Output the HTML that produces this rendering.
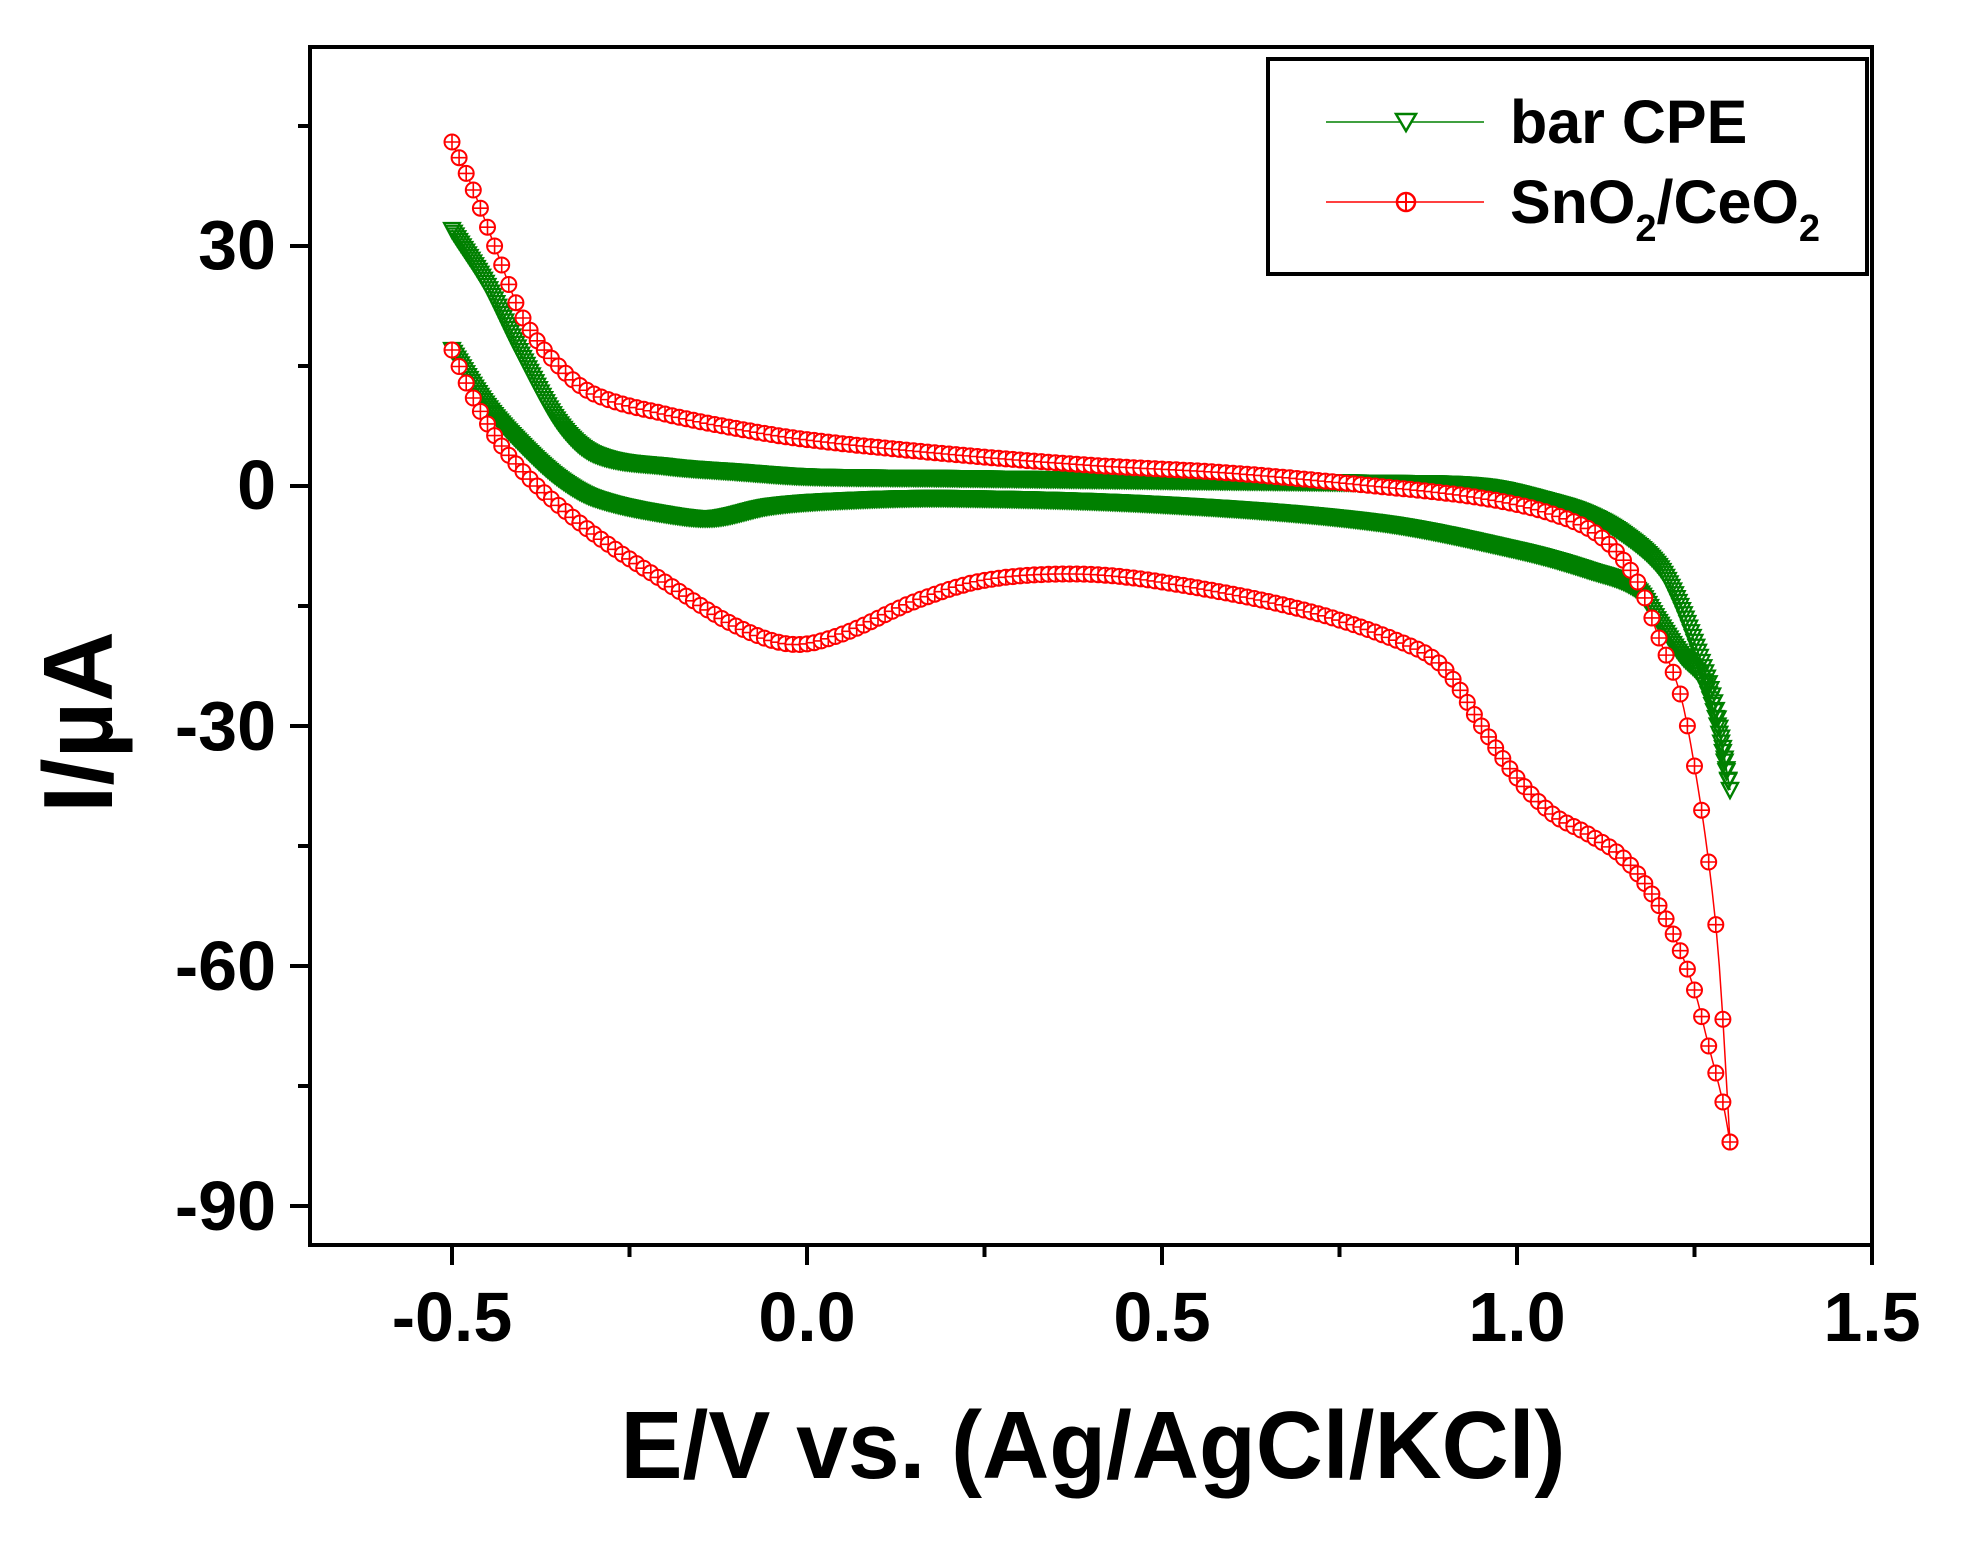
<!DOCTYPE html>
<html><head><meta charset="utf-8"><style>
html,body{margin:0;padding:0;background:#fff;}
svg{display:block;}
text{font-family:"Liberation Sans",Arial,sans-serif;font-weight:bold;fill:#000;}
</style></head><body>
<svg id="s" width="1966" height="1546" viewBox="0 0 1966 1546" xmlns="http://www.w3.org/2000/svg">
<rect x="0" y="0" width="1966" height="1546" fill="#fff"/>
<g id="data"></g>
<rect x="310" y="47" width="1562" height="1198" fill="none" stroke="#000" stroke-width="4"/>
<g stroke="#000" stroke-width="4" id="ticks"></g>
<g font-size="70" text-anchor="end">
<text x="276" y="269">30</text>
<text x="276" y="509">0</text>
<text x="276" y="750">-30</text>
<text x="276" y="990">-60</text>
<text x="276" y="1230">-90</text>
</g>
<g font-size="70" text-anchor="middle">
<text x="452" y="1341">-0.5</text>
<text x="807" y="1341">0.0</text>
<text x="1162" y="1341">0.5</text>
<text x="1517" y="1341">1.0</text>
<text x="1872" y="1341">1.5</text>
</g>
<text x="1093" y="1478" font-size="96" text-anchor="middle" textLength="945" lengthAdjust="spacingAndGlyphs">E/V vs. (Ag/AgCl/KCl)</text>
<text transform="translate(112,722) rotate(-90)" font-size="98" text-anchor="middle">I/µA</text>
<rect x="1268" y="59" width="599" height="215" fill="#fff" stroke="#000" stroke-width="4"/>
<line x1="1326" y1="122" x2="1484" y2="122" stroke="#008000" stroke-width="1.5"/>
<polygon points="1396,114 1416,114 1406,131" fill="#fff" stroke="#008000" stroke-width="2.5"/>
<line x1="1326" y1="202" x2="1484" y2="202" stroke="#ff0000" stroke-width="1.5"/>
<circle cx="1406" cy="202" r="9" fill="#fff" stroke="#ff0000" stroke-width="2.5"/>
<line x1="1397" y1="202" x2="1415" y2="202" stroke="#ff0000" stroke-width="2"/>
<line x1="1406" y1="193" x2="1406" y2="211" stroke="#ff0000" stroke-width="2"/>
<text x="1510" y="143" font-size="61">bar CPE</text>
<text x="1510" y="223" font-size="61">SnO<tspan font-size="38" dy="18">2</tspan><tspan dy="-18">/CeO</tspan><tspan font-size="38" dy="18">2</tspan></text>
</svg>
<script>
var NS="http://www.w3.org/2000/svg";
function X(v){return 807+710*v;}function Y(i){return 486-8.0*i;}
var t=document.getElementById('ticks');
function ln(a,b,c,d){var l=document.createElementNS(NS,'line');l.setAttribute('x1',a);l.setAttribute('y1',b);l.setAttribute('x2',c);l.setAttribute('y2',d);t.appendChild(l);}
for(var i=-90;i<=45;i+=15){var y=Y(i);ln(310,y,i%30==0?290:298,y);}
for(var v=-0.5;v<=1.501;v+=0.25){var x=X(v);ln(x,1245,x,Math.abs(v*2-Math.round(v*2))<1e-6?1265:1257);}
function interp(pts,v){for(var k=0;k<pts.length-1;k++){if(v>=pts[k][0]&&v<=pts[k+1][0]){var p0=pts[Math.max(k-1,0)],p1=pts[k],p2=pts[k+1],p3=pts[Math.min(k+2,pts.length-1)];var u=(v-p1[0])/(p2[0]-p1[0]);
var h=p2[0]-p1[0];var m1=(p2[1]-p0[1])/(p2[0]-p0[0])*h,m2=(p3[1]-p1[1])/(p3[0]-p1[0])*h;
var u2=u*u,u3=u2*u;return (2*u3-3*u2+1)*p1[1]+(u3-2*u2+u)*m1+(-2*u3+3*u2)*p2[1]+(u3-u2)*m2;}}return pts[pts.length-1][1];}
var gU=[[-0.5,32],[-0.45,25],[-0.4,16],[-0.35,8],[-0.3,4],[-0.2,2.5],[-0.1,1.8],[0,1.2],[0.2,1],[0.5,0.7],[0.8,0.4],[0.95,0],[1.05,-2],[1.1,-3.5],[1.15,-6],[1.2,-10],[1.23,-15],[1.26,-22],[1.28,-28],[1.3,-38]];
var gL=[[-0.5,17],[-0.45,10],[-0.4,5],[-0.35,1],[-0.3,-1.5],[-0.2,-3.5],[-0.13,-4],[-0.05,-2.5],[0.05,-1.8],[0.2,-1.5],[0.5,-2.3],[0.8,-4.5],[1.0,-8],[1.1,-10.5],[1.17,-13],[1.2,-17],[1.23,-21],[1.26,-24],[1.28,-29],[1.3,-38]];
var rU=[[-0.5,43],[-0.47,37],[-0.44,30],[-0.4,21],[-0.35,15],[-0.3,11.5],[-0.2,9],[-0.1,7.2],[0,5.8],[0.2,4],[0.4,2.6],[0.6,1.6],[0.8,0],[0.95,-1.5],[1.05,-3.5],[1.12,-6.5],[1.17,-12],[1.2,-19],[1.23,-26],[1.25,-35],[1.27,-47],[1.285,-60],[1.3,-82]];
var rL=[[-0.5,17],[-0.47,11],[-0.43,5],[-0.38,0],[-0.3,-6],[-0.2,-12],[-0.1,-17.5],[-0.02,-19.8],[0.05,-18.5],[0.15,-14.5],[0.25,-11.8],[0.38,-11],[0.5,-12],[0.7,-15.5],[0.85,-20],[0.9,-23],[0.95,-30],[1.0,-36.5],[1.05,-41],[1.1,-43.5],[1.15,-46.5],[1.19,-51],[1.22,-56],[1.25,-63],[1.27,-70],[1.29,-77],[1.3,-82]];
var g=document.getElementById('data');var h='';
function path(pts,col){var d='';for(var v=-0.5;v<=1.3001;v+=0.005){d+=(d?'L':'M')+X(v).toFixed(1)+','+Y(interp(pts,v)).toFixed(1);}h+='<path d="'+d+'" fill="none" stroke="'+col+'" stroke-width="1.5"/>';}
function tri(pts,step){for(var v=-0.5;v<=1.3001;v+=step){var x=X(v),y=Y(interp(pts,v));h+='<polygon points="'+(x-8)+','+(y-7)+' '+(x+8)+','+(y-7)+' '+x+','+(y+8)+'" fill="none" stroke="#008000" stroke-width="2.2"/>';}}
function circ(pts,step){for(var v=-0.5;v<=1.3001;v+=step){var x=X(v),y=Y(interp(pts,v));h+='<circle cx="'+x.toFixed(1)+'" cy="'+y.toFixed(1)+'" r="7.5" fill="#fff" stroke="#ff0000" stroke-width="2"/><path d="M'+(x-7.5)+','+y+'H'+(x+7.5)+'M'+x+','+(y-7.5)+'V'+(y+7.5)+'" stroke="#ff0000" stroke-width="1.6"/>';}}
path(gU,'#008000');path(gL,'#008000');tri(gU,0.0025);tri(gL,0.0025);
path(rU,'#ff0000');path(rL,'#ff0000');circ(rU,0.01);circ(rL,0.01);
g.innerHTML=h;
</script>
</body></html>
